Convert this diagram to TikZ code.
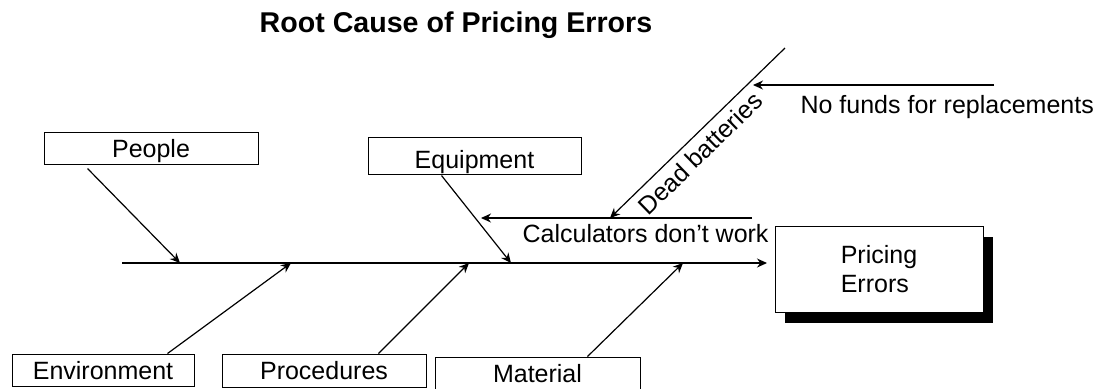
\documentclass[tikz,border=0pt]{standalone}
\usepackage{fontspec}
\setmainfont{Liberation Sans}
\usetikzlibrary{arrows.meta,calc,shadows}

\begin{document}
\begin{tikzpicture}[x=0.5pt,y=-0.5pt,>={Stealth[length=5pt,width=4.5pt]},
line width=0.6pt,
txt/.style={font=\fontsize{12.5}{15}\selectfont},
cause/.style={draw,fill=white,line width=0.5pt,inner sep=1pt,txt,
  text height=9pt,text depth=0pt,minimum height=16pt},
effect/.style={draw,fill=white,line width=0.5pt,align=left,
  font=\fontsize{12.5}{14.5}\selectfont,minimum width=104pt,minimum height=43pt,
  drop shadow={shadow xshift=5pt,shadow yshift=-5.25pt,fill=black,opacity=1}}]
\useasboundingbox (0,0) rectangle (1099,388);
\node[font=\fontsize{14.3}{17}\selectfont\bfseries,anchor=base] (title) at (456,32) {Root Cause of Pricing Errors};
\node[cause,minimum width=107pt] (people) at (151,148) {People};
\node[cause,minimum width=106.5pt,minimum height=18.5pt,text height=12.5pt] (equipment) at (474.5,155.5) {Equipment};
\node[cause,minimum width=91pt] (environment) at (103,370) {Environment};
\node[cause,minimum width=102pt,minimum height=16.5pt] (procedures) at (324,370.5) {Procedures};
\node[cause,minimum width=102.5pt,minimum height=16.5pt] (material) at (537.5,373.5) {Material};
\node[effect] (errors) at (879,269) {Pricing\\Errors};
\coordinate (tail) at (122,263);
\coordinate (head) at (767,263);
\coordinate (onpeople) at (180,263);
\coordinate (onenv) at (291,263);
\coordinate (onproc) at (469,263);
\coordinate (onequip) at (511,263);
\coordinate (onmat) at (683,263);
\coordinate (calcright) at (752,218);
\coordinate (calcleft) at (481,218);
\coordinate (deadtop) at (785,48);
\coordinate (deadtip) at (610,218);
\coordinate (fundsright) at (994,85);
\coordinate (fundstip) at (753,85);
\draw[->] (tail) -- (head);
\draw[->] ($(people.south west)+(44,4)$) -- (onpeople);
\draw[->] ($(equipment.south west)+(74,1)$) -- (onequip);
\draw[->] ($(environment.north west)+(156,0)$) -- (onenv);
\draw[->] ($(procedures.north west)+(157,0)$) -- (onproc);
\draw[->] ($(material.north west)+(153,0)$) -- (onmat);
\draw[->] (calcright) -- (calcleft);
\node[txt,inner sep=0pt,anchor=base west] (calctext) at (522,242) {Calculators don’t work};
\draw[->] (deadtop) -- node[txt,sloped,below,pos=0.55] (deadtext) {Dead batteries} (deadtip);
\draw[->] (fundsright) -- (fundstip);
\node[txt,inner sep=0pt,anchor=base west] (fundstext) at (800,113) {No funds for replacements};
\end{tikzpicture}
\end{document}
